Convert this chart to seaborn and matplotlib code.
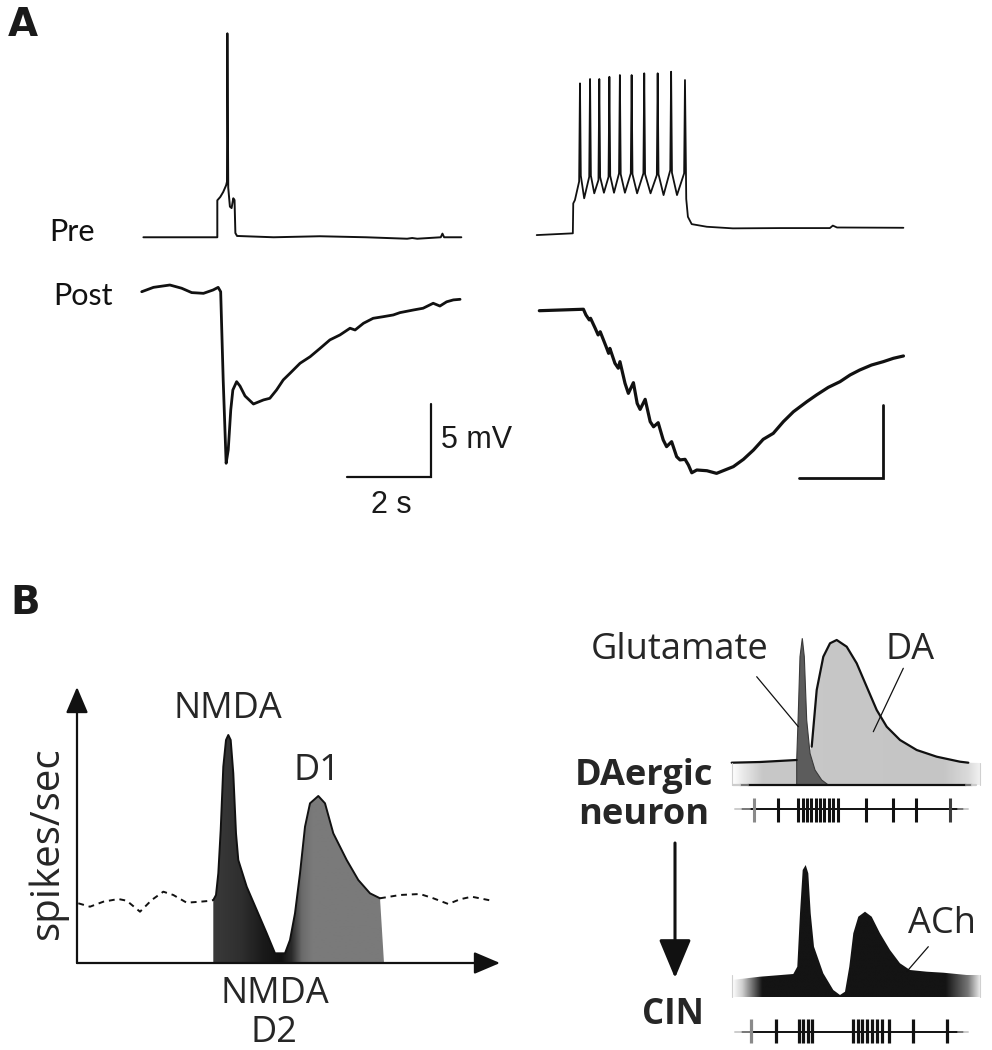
import numpy as np
import pandas as pd
import seaborn as sns
import matplotlib
matplotlib.use("Agg")
import matplotlib.pyplot as plt
from matplotlib.colors import LinearSegmentedColormap
from matplotlib.patches import Polygon, FancyArrowPatch

W, H = 992, 1050

# ---- A: paired recordings, time (s) / potential (mV relative to rest)
pre1_t = [0, 1.76, 1.76, 1.83, 1.90, 1.97, 1.99, 2.00, 2.02, 2.06, 2.10, 2.14, 2.17,
          2.19, 2.23, 3.1, 4.2, 5.3, 6.28, 6.40, 6.52, 7.08, 7.12, 7.16, 7.57]
pre1_v = [0, 0, 2.53, 2.76, 3.10, 3.56, 3.8, 13.97, 3.4, 2.10, 2.0, 2.67, 2.55,
          0.29, 0.09, 0.0, 0.07, 0.0, -0.1, -0.05, -0.1, 0.0, 0.25, 0.0, 0.0]

post1_t = [0, 0.28, 0.67, 0.95, 1.19, 1.47, 1.70, 1.82, 1.88, 1.94, 2.01, 2.06, 2.12,
           2.17, 2.26, 2.34, 2.46, 2.66, 2.90, 3.05, 3.21, 3.37, 3.53, 3.77, 4.01,
           4.25, 4.48, 4.72, 4.96, 5.08, 5.28, 5.51, 5.75, 5.99, 6.15, 6.47, 6.70,
           6.94, 7.10, 7.26, 7.42, 7.58]
post1_v = [-0.12, 0.18, 0.34, 0.12, -0.18, -0.23, 0.0, 0.18, -0.12, -6.16, -11.87,
           -10.96, -8.22, -6.85, -6.28, -6.58, -7.26, -7.81, -7.53, -7.42, -6.85,
           -6.16, -5.71, -5.02, -4.57, -3.99, -3.42, -3.08, -2.62, -2.74, -2.28,
           -1.94, -1.83, -1.71, -1.55, -1.37, -1.25, -0.91, -1.10, -0.81, -0.68, -0.64]

pre2_t = [0, 0.86, 0.87, 0.91, 1.01, 1.03, 1.05, 1.13, 1.25, 1.27, 1.29, 1.37, 1.47,
          1.49, 1.51, 1.60, 1.71, 1.73, 1.75, 1.84, 1.96, 1.98, 2.00, 2.10, 2.24,
          2.26, 2.28, 2.39, 2.54, 2.56, 2.58, 2.71, 2.86, 2.88, 2.90, 3.02, 3.18,
          3.20, 3.22, 3.34, 3.51, 3.53, 3.56, 3.60, 3.69, 4.05, 4.67, 5.79, 6.98,
          7.05, 7.15, 8.73]
pre2_v = [-0.07, 0.05, 2.10, 2.33, 3.6, 10.32, 4.0, 2.45, 3.92, 10.62, 4.0, 2.79,
          3.70, 10.62, 3.9, 2.83, 3.92, 10.77, 4.0, 2.83, 4.16, 10.89, 4.1, 2.83,
          4.16, 10.89, 4.1, 2.79, 4.16, 11.01, 4.1, 2.79, 4.04, 11.01, 4.1, 2.67,
          4.38, 11.12, 4.2, 2.67, 4.16, 10.55, 2.4, 1.18, 0.68, 0.50, 0.39, 0.41,
          0.41, 0.58, 0.45, 0.43]

post2_t = [0, 1.05, 1.11, 1.19, 1.22, 1.33, 1.40, 1.45, 1.59, 1.65, 1.68, 1.80, 1.88,
           1.92, 2.04, 2.12, 2.24, 2.33, 2.40, 2.52, 2.64, 2.72, 2.83, 2.95, 3.03,
           3.15, 3.27, 3.35, 3.47, 3.55, 3.63, 3.75, 3.99, 4.22, 4.62, 4.86, 5.10,
           5.33, 5.57, 5.81, 6.05, 6.37, 6.60, 6.88, 7.16, 7.40, 7.63, 7.91, 8.19,
           8.43, 8.67]
post2_v = [-0.05, 0.05, -0.34, -0.68, -0.57, -1.25, -1.71, -1.49, -2.51, -2.97,
           -2.63, -3.65, -3.99, -3.54, -5.02, -5.71, -4.98, -6.40, -6.81, -6.12,
           -7.65, -8.00, -7.72, -8.90, -9.36, -9.02, -10.05, -10.27, -10.23, -10.62,
           -11.15, -10.96, -11.01, -11.19, -10.73, -10.23, -9.59, -8.86, -8.45,
           -7.65, -6.97, -6.28, -5.82, -5.30, -4.91, -4.45, -4.11, -3.77, -3.54,
           -3.31, -3.15]

scale_s, scale_mv = 2, 5

# ---- B left: firing rate schematic (arbitrary units)
base_l_t = [0.26, 2.6, 5.26, 8.26, 9.94, 12.6, 14.94, 17.26, 19.26, 21.94, 24.6, 26.94, 27.26]
base_l_r = [19.9, 18.77, 20.43, 21.33, 20.77, 17.1, 21.0, 23.77, 22.67, 20.1, 20.43, 20.77, 21.0]
base_r_t = [60.6, 64.6, 68.6, 71.26, 74.26, 76.6, 78.94, 82.94]
base_r_r = [21.57, 22.67, 23.0, 21.57, 19.67, 21.23, 22.1, 20.77]
resp_t = [27.26, 27.8, 28.26, 28.74, 29.26, 29.8, 30.26, 30.74, 31.26, 31.8, 32.26,
          33.94, 35.94, 37.94, 39.6, 41.6, 42.6, 43.6, 44.6, 45.6, 46.6, 48.26, 49.6,
          51.26, 53.94, 56.26, 58.6, 60.6]
resp_r = [21.0, 22.67, 29.9, 44.33, 65.43, 74.33, 76.0, 74.33, 63.23, 43.23, 34.33,
          25.43, 17.67, 9.9, 3.23, 3.23, 7.67, 16.57, 29.9, 45.43, 53.23, 55.67, 53.23,
          43.23, 34.33, 27.67, 23.23, 21.57]

# ---- B right: DAergic neuron release and CIN response (arbitrary units)
da_flat_t = [-0.12, 11.2, 25.88]
da_flat_r = [14.87, 15.33, 16.67]
da_t = [29.2, 31.88, 33.88, 36.52, 39.2, 41.88, 45.88, 49.88, 53.88, 57.88, 61.88,
        67.2, 73.88, 81.88, 91.2, 94.52, 99.2]
da_r = [16.67, 25.53, 63.33, 85.53, 94.47, 96.67, 92.2, 81.13, 65.53, 50.0, 38.87,
        30.0, 23.33, 18.87, 15.53, 14.87, 14.67]
glu_t = [25.88, 25.88, 26.52, 27.2, 28.12, 28.92, 29.88, 31.2, 33.2, 35.88, 38.52]
glu_r = [0, 16.67, 47.8, 85.53, 97.8, 85.53, 43.33, 21.13, 10.0, 3.33, 0]
cin_t = [-0.12, 11.2, 24.52, 26.12, 27.2, 28.28, 29.48, 30.52, 31.48, 32.8, 36.52,
         40.52, 43.2, 45.2, 46.92, 48.52, 50.52, 53.2, 55.88, 59.2, 63.2, 67.2, 71.2,
         77.88, 84.52, 93.88, 99.2]
cin_r = [11.33, 13.53, 15.33, 20.2, 55.8, 84.67, 88.0, 82.47, 55.8, 33.53, 15.8,
         4.67, 1.33, 3.53, 20.2, 42.47, 53.53, 56.87, 53.53, 42.47, 31.33, 22.47,
         18.0, 16.87, 16.2, 14.67, 14.67]
da_spikes = [8.9, 18.5, 26.5, 28.3, 30.0, 31.7, 33.5, 35.2, 36.9, 38.7, 40.4, 42.5,
             53.5, 64.3, 73.6, 87.3]
cin_spikes = [7.6, 17.5, 26.8, 28.5, 30.2, 31.9, 48.3, 50.3, 52.1, 54.0, 55.9, 57.9,
              59.9, 62.8, 72.3, 85.9]

sns.set_theme(style="white")
plt.rcParams["font.family"] = ["Open Sans", "DejaVu Sans"]

fig = plt.figure(figsize=(W / 100, H / 100), dpi=100, facecolor="white")


def box(x0, y0, x1, y1):
    return [x0 / W, 1 - y1 / H, (x1 - x0) / W, (y1 - y0) / H]


def ftext(x, y, s, **kw):
    fig.text(x / W, 1 - y / H, s, **kw)


def trace(ax, t, v, dt, dv, lw, color="#111111", ls=None):
    df = pd.DataFrame({"t": np.asarray(t) + dt, "v": np.asarray(v) + dv})
    sns.lineplot(data=df, x="t", y="v", sort=False, estimator=None, color=color,
                 linewidth=lw, ax=ax, legend=False)
    line = ax.lines[-1]
    line.set_solid_joinstyle("round")
    line.set_solid_capstyle("round")
    if ls is not None:
        line.set_linestyle(ls)
    return line


def grad_fill(ax, xs, ys, stops, x0, x1, y0, y1, z=1):
    poly = Polygon(np.column_stack([xs, ys]), closed=True, fc="none", ec="none")
    ax.add_patch(poly)
    cmap = LinearSegmentedColormap.from_list("fill", stops)
    im = ax.imshow(np.linspace(0, 1, 512)[None, :], cmap=cmap, extent=(x0, x1, y0, y1),
                   aspect="auto", origin="lower", interpolation="bilinear", zorder=z)
    im.set_clip_path(poly)


def raster_line(ax, y, x0, x1, lw=1.4):
    ax.plot([x0 + 6, x1 - 4], [y, y], color="#111111", lw=lw, zorder=2)
    ax.plot([x0 + 2.5, x0 + 6], [y, y], color="#777777", lw=lw, zorder=2)
    ax.plot([x0, x0 + 2.5], [y, y], color="#cccccc", lw=lw, zorder=2)
    ax.plot([x1 - 4, x1 - 1.5], [y, y], color="#777777", lw=lw, zorder=2)
    ax.plot([x1 - 1.5, x1], [y, y], color="#cccccc", lw=lw, zorder=2)


SEC, MV = 42.0, 14.6  # px per second / per mV

# ---------------- panel A ----------------
axA1 = fig.add_axes(box(120, 10, 480, 530))
axA1.set_xlim(-0.517, -0.517 + 360 / SEC)
axA1.set_ylim(0, 520 / MV)
trace(axA1, pre1_t, pre1_v, 0.04, 20.05, 1.4)
trace(axA1, post1_t, post1_v, 0.0, 16.44, 2.0)
cx, cy = 6.89, 3.63
axA1.plot([cx - scale_s, cx, cx], [cy, cy, cy + scale_mv], color="#111111", lw=1.6,
          solid_joinstyle="miter")

axA2 = fig.add_axes(box(520, 10, 920, 530))
axA2.set_xlim(-0.398, -0.398 + 400 / SEC)
axA2.set_ylim(0, 520 / MV)
trace(axA2, pre2_t, pre2_v, 0.0, 20.27, 1.3)
trace(axA2, post2_t, post2_v, 0.062, 15.07, 2.3)
cx, cy = 8.245, 3.56
axA2.plot([cx - scale_s, cx, cx], [cy, cy, cy + scale_mv], color="#111111", lw=2.0,
          solid_joinstyle="miter")

for ax in (axA1, axA2):
    ax.set_axis_off()

ftext(8, 6, "A", ha="left", va="top", family="DejaVu Sans", weight="bold", size=28,
      color="#1a1a1a")
ftext(49, 241, "Pre", ha="left", va="baseline", family="Lato", size=22, color="#111111")
ftext(53, 305, "Post", ha="left", va="baseline", family="Lato", size=22, color="#111111")
ftext(441, 448.5, "5 mV", ha="left", va="baseline", family="Liberation Sans", size=22,
      color="#1a1a1a")
ftext(391.5, 513, "2 s", ha="center", va="baseline", family="Liberation Sans", size=22,
      color="#1a1a1a")

# ---------------- panel B left ----------------
axB1 = fig.add_axes(box(77, 680, 507, 963))
axB1.set_xlim(0, 86)
axB1.set_ylim(0, 283 / 3)
fill_x = resp_t + [61.4, 27.26]
fill_y = resp_r + [0, 0]
grad_fill(axB1, fill_x, fill_y,
          [(0.0, "#3a3a3a"), (0.17, "#2e2e2e"), (0.29, "#1a1a1a"), (0.40, "#111111"),
           (0.46, "#2a2a2a"), (0.52, "#6a6a6a"), (0.58, "#7a7a7a"), (1.0, "#7a7a7a")],
          27.26, 61.4, 0, 80, z=1)
trace(axB1, resp_t, resp_r, 0, 0, 1.4)
trace(axB1, base_l_t, base_l_r, 0, 0, 1.4, ls=(0, (3, 2.5)))
trace(axB1, base_r_t, base_r_r, 0, 0, 1.4, ls=(0, (3, 2.5)))
for tip in [(84.6, 0), (0, 92)]:
    axB1.add_patch(FancyArrowPatch((0, 0), tip, arrowstyle="-|>,head_length=0.8,head_width=0.34",
                                   mutation_scale=20, lw=1.6, color="#111111",
                                   shrinkA=0, shrinkB=0, clip_on=False, zorder=5))
axB1.set_axis_off()

ftext(10, 584, "B", ha="left", va="top", family="DejaVu Sans", weight="bold", size=28,
      color="#1a1a1a")
ftext(228, 709, "NMDA", ha="center", va="center", size=26)
ftext(317, 771, "D1", ha="center", va="center", size=26)
ftext(275, 994, "NMDA", ha="center", va="center", size=26)
ftext(274, 1033, "D2", ha="center", va="center", size=26)
ftext(48, 843, "spikes/sec", ha="center", va="center", rotation=90, size=29)

# ---------------- panel B right ----------------
axB2 = fig.add_axes(box(722, 620, 992, 835))
axB2.set_xlim(-4, 104)
axB2.set_ylim(-50 / 1.5, 165 / 1.5)
band_x = [-0.12] + da_flat_t + da_t + [99.2, -0.12]
band_y = [0] + da_flat_r + da_r + [0, 0]
grad_fill(axB2, band_x, band_y,
          [(0.0, "#ffffff"), (0.03, "#efefef"), (0.12, "#c8c8c8"), (0.85, "#c5c5c5"),
           (0.95, "#dadada"), (1.0, "#f2f2f2")], -0.12, 99.2, 0, 100, z=1)
axB2.fill(glu_t, glu_r, facecolor="#5c5c5c", edgecolor="#3a3a3a", lw=0.8, zorder=2)
trace(axB2, da_flat_t, da_flat_r, 0, 0, 1.6)
trace(axB2, da_t[1:-1], da_r[1:-1], 0, 0, 1.6)
for xe in (-0.12, 99.2):
    axB2.plot([xe, xe], [0, 14.8], color="#d0d0d0", lw=0.8, zorder=2)
raster_line(axB2, 0, 0.5, 97.5, lw=1.6)
raster_line(axB2, -16.2, 1.2, 94.4)
da_cols = ["#8a8a8a"] + ["#111111"] * (len(da_spikes) - 2) + ["#3c3c3c"]
axB2.vlines(da_spikes, -24.87, -8.87, colors=da_cols, lw=2.2, zorder=3)
axB2.plot([9.88, 26.52], [72.2, 38.87], color="#111111", lw=0.9, zorder=4)
axB2.plot([68.52, 56.52], [77.8, 35.53], color="#111111", lw=0.9, zorder=4)
axB2.set_axis_off()

axB3 = fig.add_axes(box(722, 850, 992, 1050))
axB3.set_xlim(-4, 104)
axB3.set_ylim(-53 / 1.5, 147 / 1.5)
cin_x = cin_t + [99.2, -0.12]
cin_y = cin_r + [0, 0]
grad_fill(axB3, cin_x, cin_y,
          [(0.0, "#ffffff"), (0.04, "#cfcfcf"), (0.12, "#141414"), (0.86, "#141414"),
           (0.95, "#777777"), (1.0, "#f0f0f0")], -0.12, 99.2, 0, 100, z=1)
for xe in (-0.12, 99.2):
    axB3.plot([xe, xe], [0, 14.5], color="#d0d0d0", lw=0.8, zorder=2)
raster_line(axB3, -23.13, 1.2, 94.4)
cin_cols = ["#8a8a8a"] + ["#111111"] * (len(cin_spikes) - 1)
axB3.vlines(cin_spikes, -30.87, -14.87, colors=cin_cols, lw=2.3, zorder=3)
axB3.plot([78.52, 69.88], [33.53, 16.87], color="#111111", lw=0.9, zorder=4)
axB3.set_axis_off()

ftext(680, 650, "Glutamate", ha="center", va="center", size=26)
ftext(910, 650, "DA", ha="center", va="center", size=26)
ftext(942, 924, "ACh", ha="center", va="center", size=26)
ftext(644, 776, "DAergic", ha="center", va="center", size=26, weight="bold")
ftext(644, 815, "neuron", ha="center", va="center", size=26, weight="bold")
ftext(673, 1015, "CIN", ha="center", va="center", size=25, weight="bold")

fig.add_artist(FancyArrowPatch((675 / W, 1 - 843 / H), (675 / W, 1 - 978 / H),
                               transform=fig.transFigure,
                               arrowstyle="-|>,head_length=1.2,head_width=0.5",
                               mutation_scale=20, lw=2.2, color="#111111",
                               shrinkA=0, shrinkB=0))

fig.savefig("out.png", dpi=100, facecolor="white")
